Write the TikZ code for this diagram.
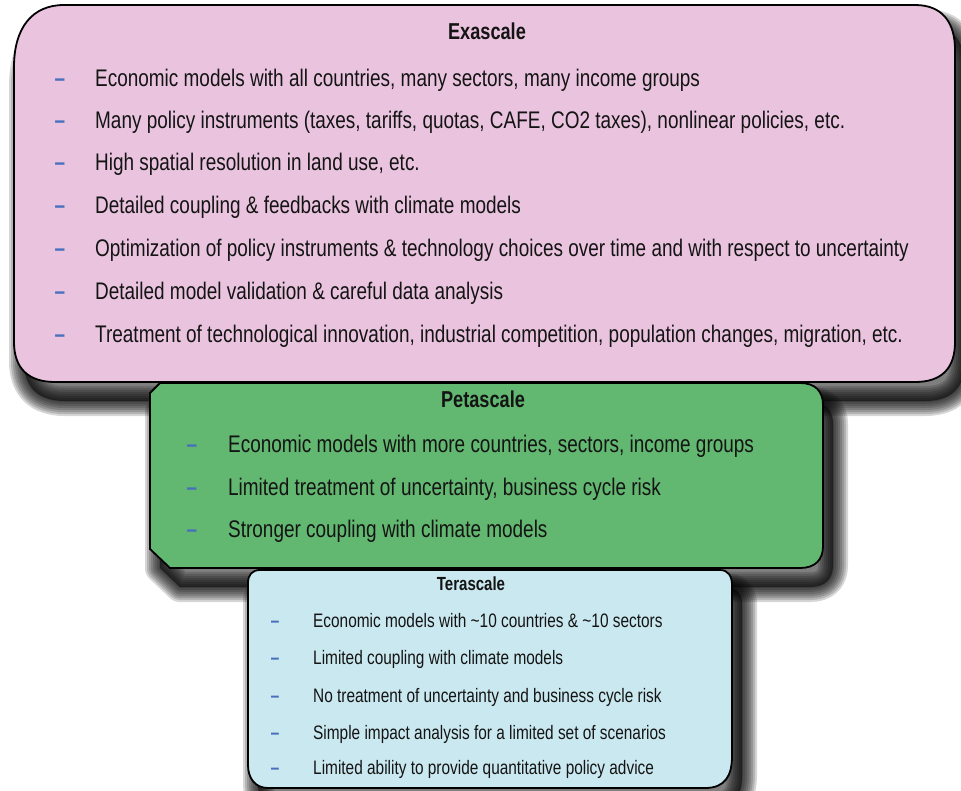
\documentclass[tikz,border=0pt]{standalone}
\usepackage{fontspec}
\setmainfont{Liberation Sans}[FakeStretch=0.79]
\definecolor{pinkfill}{RGB}{234,196,223}
\definecolor{greenfill}{RGB}{99,184,113}
\definecolor{bluefill}{RGB}{202,232,240}
\definecolor{dashblue}{RGB}{72,112,188}
\definecolor{textcol}{RGB}{20,20,20}
\newcommand\mydrawbox[2]{%
  \path[shift={(10,19)}, fill=black, fill opacity=0.5] #2;
  \foreach \w in {30,26,22,18,14,10,6,2}{%
    \path[shift={(10,19)}, draw=black, line width=\w pt, line join=round, draw opacity=0.16] #2;}
  \path[boxline, fill=#1] #2;}
\begin{document}
\begin{tikzpicture}[x=1pt,y=-1pt,
  boxline/.style={draw=black, line width=1.8pt},
  item/.style={anchor=mid west, inner sep=0pt, text=textcol},
  bul/.style={anchor=mid, inner sep=0pt, text=dashblue},
  ttl/.style={anchor=mid, inner sep=0pt, text=textcol}]
\useasboundingbox (0,0) rectangle (961,790);

% Exascale box
\mydrawbox{pinkfill}{(64,5) -- (915,5) .. controls (942,5) and (955,22) .. (955,50)
  -- (955,342) .. controls (955,368) and (942,382) .. (915,382)
  -- (55,382) .. controls (28,382) and (14,368) .. (14,342)
  -- (14,67) .. controls (14,28) and (32,5) .. (64,5) -- cycle}

% Petascale box
\mydrawbox{greenfill}{(160,383) -- (800,383) .. controls (815,383) and (823,391) .. (823,405)
  -- (823,546) .. controls (823,560) and (815,568) .. (800,568)
  -- (170,568) -- (150,549) -- (150,393) -- cycle}

% Terascale box
\mydrawbox{bluefill}{(260,570) -- (720,570) .. controls (728,570) and (732,576) .. (732,585)
  -- (732,756) .. controls (732,776) and (725,788) .. (705,788)
  -- (268,788) .. controls (255,788) and (248,778) .. (248,765)
  -- (248,583) .. controls (248,575) and (252,570) .. (260,570) -- cycle}

% Exascale text
\node[ttl, font=\bfseries\fontsize{23}{26}\selectfont] (exa) at (487,37) {Exascale};
\foreach \yy/\tx [count=\i] in {
  84/{Economic models with all countries, many sectors, many income groups},
  126/{Many policy instruments (taxes, tariffs, quotas, CAFE, CO2 taxes), nonlinear policies, etc.},
  168/{High spatial resolution in land use, etc.},
  211/{Detailed coupling \& feedbacks with climate models},
  254/{Optimization of policy instruments \& technology choices over time and with respect to uncertainty},
  297/{Detailed model validation \& careful data analysis},
  340/{Treatment of technological innovation, industrial competition, population changes, migration, etc.}}
{
  \node[bul, font=\bfseries\fontsize{24}{26}\selectfont] (ed\i) at (60,\yy) {–};
  \node[item, font=\fontsize{24}{26}\selectfont] (et\i) at (95,\yy) {\tx};
}

% Petascale text
\node[ttl, font=\bfseries\fontsize{23}{26}\selectfont] (peta) at (483,405) {Petascale};
\foreach \yy/\tx [count=\i] in {
  450/{Economic models with more countries, sectors, income groups},
  493/{Limited treatment of uncertainty, business cycle risk},
  535/{Stronger coupling with climate models}}
{
  \node[bul, font=\bfseries\fontsize{24}{26}\selectfont] (pd\i) at (192,\yy) {–};
  \node[item, font=\fontsize{24}{26}\selectfont] (pt\i) at (228,\yy) {\tx};
}

% Terascale text
\node[ttl, font=\bfseries\fontsize{19}{22}\selectfont] (tera) at (471,588) {Terascale};
\foreach \yy/\tx [count=\i] in {
  625/{Economic models with \textasciitilde 10 countries \& \textasciitilde 10 sectors},
  662/{Limited coupling with climate models},
  700/{No treatment of uncertainty and business cycle risk},
  737/{Simple impact analysis for a limited set of scenarios},
  772/{Limited ability to provide quantitative policy advice}}
{
  \node[bul, font=\bfseries\fontsize{20}{22}\selectfont] (td\i) at (275,\yy) {–};
  \node[item, font=\fontsize{19.5}{22}\selectfont] (tt\i) at (313,\yy) {\tx};
}
\end{tikzpicture}
\end{document}
